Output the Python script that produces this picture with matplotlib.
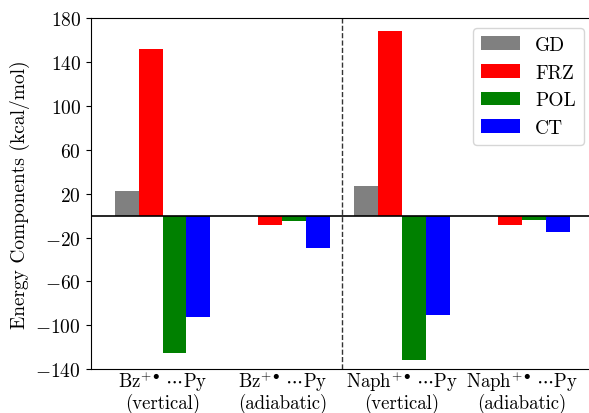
import numpy as np
import matplotlib
matplotlib.use("Agg")
import matplotlib.pyplot as plt

plt.rcParams["font.family"] = "serif"
plt.rcParams["font.serif"] = ["cmr10"]
plt.rcParams["mathtext.fontset"] = "cm"
plt.rcParams["axes.formatter.use_mathtext"] = True
plt.rcParams["font.size"] = 14

# data
groups = [r"Bz$^{+\bullet}\,\cdots$Py" + "\n(vertical)",
          r"Bz$^{+\bullet}\,\cdots$Py" + "\n(adiabatic)",
          r"Naph$^{+\bullet}\,\cdots$Py" + "\n(vertical)",
          r"Naph$^{+\bullet}\,\cdots$Py" + "\n(adiabatic)"]
GD = [22.5, 0.0, 27.4, 0.0]
FRZ = [152.2, -8.2, 168.6, -8.2]
POL = [-125.1, -4.6, -131.7, -3.7]
CT = [-92.2, -29.2, -90.4, -14.6]

series = [("GD", GD, "gray"), ("FRZ", FRZ, "red"),
          ("POL", POL, "green"), ("CT", CT, "blue")]
yticks = np.arange(-140, 181, 40)

w = 0.2
x = np.arange(len(groups))

fig = plt.figure(figsize=(5.89, 4.14), dpi=100)
ax = fig.add_axes([0.154, 0.1063, 0.8538, 0.8466])

for i, (name, vals, col) in enumerate(series):
    ax.bar(x + (i - 1.5) * w, vals, w, color=col, label=name)

ax.axhline(0, color="k", lw=1.2)
ax.axvline(1.5, color="0.2", ls="--", lw=1.0)

ax.set_xlim(-0.6, 3.6)
ax.set_ylim(-140, 180)
ax.set_yticks(yticks)
ax.set_xticks(x)
ax.set_xticklabels(groups, linespacing=1.0, fontsize=13.5)
ax.tick_params(axis="x", length=0, pad=0)
ax.set_ylabel("Energy Components (kcal/mol)")
ax.legend(loc="upper right")

fig.savefig("out.png", dpi=100)
